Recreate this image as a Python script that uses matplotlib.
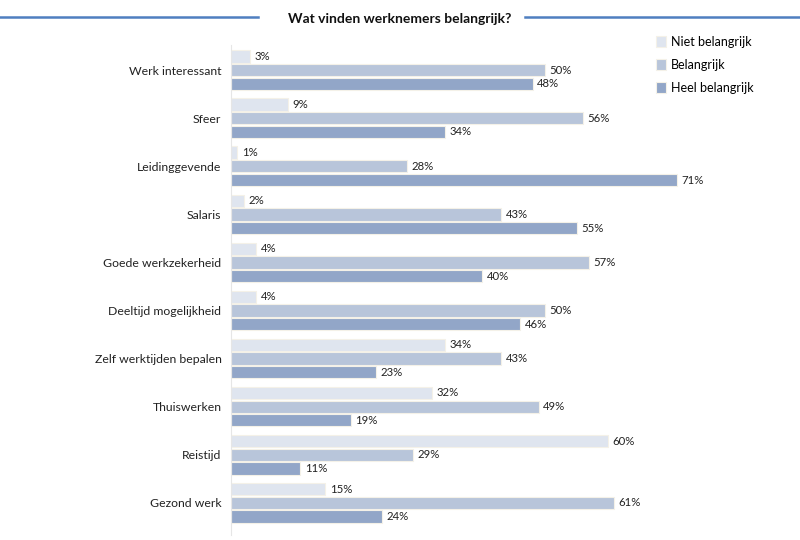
import matplotlib
matplotlib.use('Agg')
import matplotlib.pyplot as plt
import numpy as np

plt.rcParams['font.family'] = ['Lato', 'DejaVu Sans']

categories = ['Werk interessant', 'Sfeer', 'Leidinggevende', 'Salaris',
              'Goede werkzekerheid', 'Deeltijd mogelijkheid',
              'Zelf werktijden bepalen', 'Thuiswerken', 'Reistijd', 'Gezond werk']
series_names = ['Niet belangrijk', 'Belangrijk', 'Heel belangrijk']
niet = [3, 9, 1, 2, 4, 4, 34, 32, 60, 15]
belangrijk = [50, 56, 28, 43, 57, 50, 43, 49, 29, 61]
heel = [48, 34, 71, 55, 40, 46, 23, 19, 11, 24]
colors = ['#dfe5ef', '#b8c5da', '#92a6c8']

fig = plt.figure(figsize=(8, 5.4), dpi=100)
ax = fig.add_axes([0.289, 0.0093, 0.628, 0.907])

y = np.arange(len(categories))
offsets = [-0.285, 0.0, 0.285]
h = 0.255
for vals, off, col, name in zip([niet, belangrijk, heel], offsets, colors, series_names):
    bars = ax.barh(y + off, vals, height=h, color=col, edgecolor='#f4f1e8',
                   linewidth=0.8, label=name)
    for b, v in zip(bars, vals):
        ax.text(b.get_width() + 0.7, b.get_y() + b.get_height() / 2, f'{v}%',
                va='center', ha='left', fontsize=8.2, color='#222222')

ax.set_xlim(0, 80)
ax.set_ylim(9.67, -0.52)
ax.set_yticks(y)
ax.set_yticklabels(categories, fontsize=8.8, color='#222222')
ax.tick_params(axis='y', length=0, pad=7)
ax.set_xticks([])
for s in ['top', 'right', 'bottom']:
    ax.spines[s].set_visible(False)
ax.spines['left'].set_color('#e6e6e6')

# title with lines on both sides
fig.text(0.4995, 0.965, 'Wat vinden werknemers belangrijk?', ha='center', va='center',
         fontsize=10, fontweight='bold', color='#111111')
fig.add_artist(plt.Line2D([0.0, 0.322], [0.968, 0.968], color='#4f7fc0', lw=1.8))
fig.add_artist(plt.Line2D([0.656, 1.0], [0.968, 0.968], color='#4f7fc0', lw=1.8))

leg = fig.legend(loc='upper left', bbox_to_anchor=(0.806, 0.955), frameon=False,
                 fontsize=9, handlelength=0.8, handleheight=1.0, handletextpad=0.4,
                 labelspacing=0.9)

fig.savefig('out.png', dpi=100)
